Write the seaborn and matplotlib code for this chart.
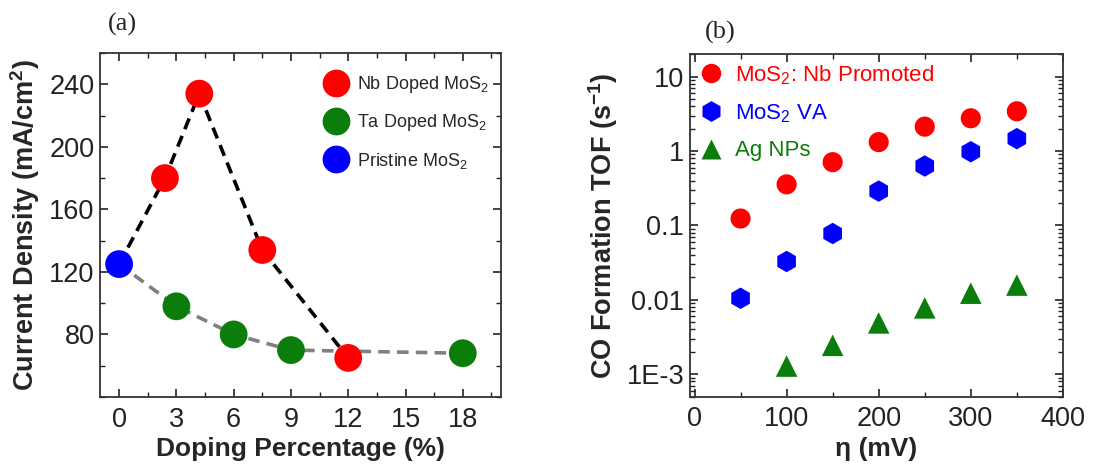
import matplotlib
matplotlib.use("Agg")
import matplotlib.pyplot as plt
import matplotlib.ticker as mticker
from matplotlib.lines import Line2D
import pandas as pd
import seaborn as sns

# panel (a): current density vs doping
pristine_x = [0]
pristine_y = [125]
nb_x = [2.4, 4.2, 7.5, 12]
nb_y = [180, 234, 134, 65]
ta_x = [3, 6, 9, 18]
ta_y = [98, 80, 70, 68]

# panel (b): TOF vs overpotential
eta = [50, 100, 150, 200, 250, 300, 350]
tof_nb = [0.124, 0.357, 0.71, 1.32, 2.13, 2.76, 3.43]
tof_va = [0.0105, 0.0328, 0.078, 0.29, 0.63, 0.98, 1.47]
eta_ag = [100, 150, 200, 250, 300, 350]
tof_ag = [0.00129, 0.00245, 0.0049, 0.0078, 0.0123, 0.0158]

RED = "#ff0000"
GREEN = "#0a7d0a"
BLUE = "#0000ff"

sns.set_style("ticks")
plt.rcParams['font.family'] = ['Liberation Sans', 'DejaVu Sans']
plt.rcParams['mathtext.fontset'] = 'custom'
plt.rcParams['mathtext.rm'] = 'Liberation Sans'
plt.rcParams['mathtext.it'] = 'Liberation Sans:italic'
plt.rcParams['mathtext.bf'] = 'Liberation Sans:bold'

fig = plt.figure(figsize=(11.2, 4.68), dpi=100)
ax1 = fig.add_axes([0.0893, 0.1517, 0.3580, 0.7351])
ax2 = fig.add_axes([0.616, 0.1524, 0.3330, 0.7316])

# ---- (a)
nb_line = pd.DataFrame({"x": pristine_x + nb_x, "y": pristine_y + nb_y})
ta_line = pd.DataFrame({"x": pristine_x + ta_x, "y": pristine_y + ta_y})
sns.lineplot(data=nb_line, x="x", y="y", ax=ax1, color="black", lw=2.6,
             linestyle=(0, (3.2, 2.0)), sort=False, zorder=1)
sns.lineplot(data=ta_line, x="x", y="y", ax=ax1, color="#808080", lw=2.6,
             linestyle=(0, (3.2, 2.0)), sort=False, zorder=1)

pts = pd.DataFrame({
    "x": nb_x + ta_x + pristine_x,
    "y": nb_y + ta_y + pristine_y,
    "kind": ["Nb"] * len(nb_x) + ["Ta"] * len(ta_x) + ["Pristine"],
})
sns.scatterplot(data=pts, x="x", y="y", hue="kind", ax=ax1,
                palette={"Nb": RED, "Ta": GREEN, "Pristine": BLUE},
                s=400, edgecolor="none", legend=False, zorder=3)

ax1.set_xlim(-1, 20)
ax1.set_ylim(40, 260)
ax1.set_xticks([0, 3, 6, 9, 12, 15, 18])
ax1.set_yticks([80, 120, 160, 200, 240])
ax1.xaxis.set_minor_locator(mticker.MultipleLocator(1.5))
ax1.yaxis.set_minor_locator(mticker.MultipleLocator(20))
ax1.set_xlabel("Doping Percentage (%)", fontsize=19, fontweight="bold", labelpad=3)
ax1.set_ylabel("Current Density (mA/cm$^\\mathbf{2}$)", fontsize=19.5, fontweight="bold", labelpad=5)

h1 = [Line2D([], [], ls="none", marker="o", ms=20, mfc=c, mec="none") for c in (RED, GREEN, BLUE)]
ax1.legend(h1, ["Nb Doped MoS$_2$", "Ta Doped MoS$_2$", "Pristine MoS$_2$"],
           loc="upper right", bbox_to_anchor=(1.0, 0.975), frameon=False, fontsize=13,
           handletextpad=0.15, labelspacing=0.95, borderaxespad=0.3)
ax1.text(0.02, 1.05, "(a)", transform=ax1.transAxes, fontsize=19,
         family="Liberation Serif", va="bottom")

# ---- (b)
sns.scatterplot(x=eta, y=tof_nb, ax=ax2, color=RED, marker="o", s=210, edgecolor="none", zorder=3)
sns.scatterplot(x=eta, y=tof_va, ax=ax2, color=BLUE, marker="h", s=240, edgecolor="none", zorder=3)
sns.scatterplot(x=eta_ag, y=tof_ag, ax=ax2, color=GREEN, marker="^", s=240, edgecolor="none", zorder=3)

ax2.set_yscale("log")
ax2.set_xlim(-5, 400)
ax2.set_ylim(5e-4, 20)
ax2.set_xticks([0, 100, 200, 300, 400])
ax2.xaxis.set_minor_locator(mticker.MultipleLocator(50))
ax2.set_yticks([1e-3, 1e-2, 1e-1, 1, 10])
ax2.set_yticklabels(["1E-3", "0.01", "0.1", "1", "10"])
ax2.yaxis.set_minor_locator(mticker.LogLocator(base=10, subs=range(2, 10), numticks=20))
ax2.yaxis.set_minor_formatter(mticker.NullFormatter())
ax2.set_xlabel("η (mV)", fontsize=19, fontweight="bold", labelpad=3)
ax2.set_ylabel("CO Formation TOF (s$^\\mathbf{-1}$)", fontsize=19.5, fontweight="bold", labelpad=5)

h2 = [Line2D([], [], ls="none", marker=m, ms=ms, mfc=c, mec="none")
      for m, ms, c in (("o", 14, RED), ("h", 15, BLUE), ("^", 15, GREEN))]
leg2 = ax2.legend(h2, ["MoS$_2$: Nb Promoted", "MoS$_2$ VA", "Ag NPs"],
                  loc="upper left", bbox_to_anchor=(-0.02, 1.02), frameon=False, fontsize=16,
                  handletextpad=0.45, labelspacing=0.7, borderaxespad=0.3, handlelength=1.2)
for t, c in zip(leg2.get_texts(), (RED, BLUE, GREEN)):
    t.set_color(c)
ax2.text(0.04, 1.03, "(b)", transform=ax2.transAxes, fontsize=19,
         family="Liberation Serif", va="bottom")

for ax in (ax1, ax2):
    for sp in ax.spines.values():
        sp.set_visible(True)
        sp.set_linewidth(1.3)
        sp.set_color("#333333")
    ax.tick_params(which="both", direction="in", top=True, right=True, labelsize=19.5, colors="#222222")
    ax.tick_params(which="major", length=6, width=1.2)
    ax.tick_params(which="minor", length=3.5, width=1.0)
    ax.tick_params(axis="x", pad=7)
    ax.tick_params(axis="y", pad=4)

fig.savefig("out.png", dpi=100)
